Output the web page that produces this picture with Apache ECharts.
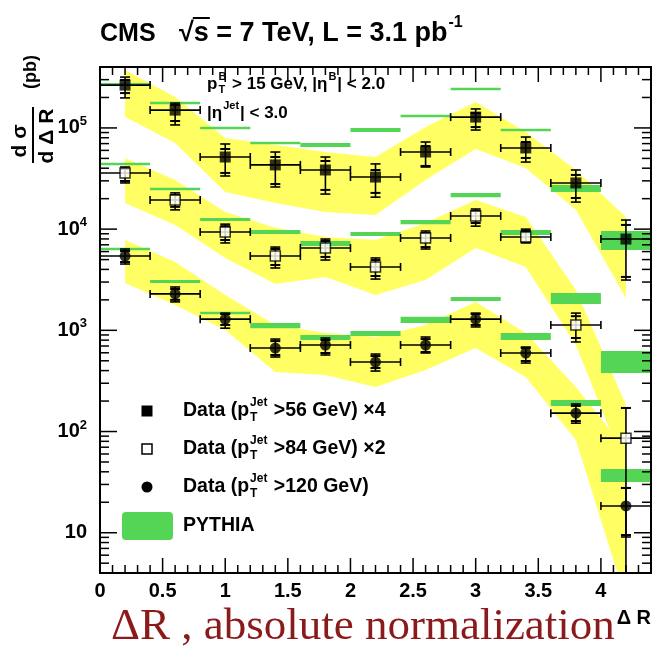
<!DOCTYPE html>
<html>
<head>
<meta charset="utf-8">
<title>CMS dsigma/dDeltaR</title>
<script src="https://cdn.jsdelivr.net/npm/echarts@6/dist/echarts.min.js"></script>
<style>
  html, body { margin: 0; padding: 0; background: #fff; }
  #main { width: 654px; height: 648px; }
</style>
</head>
<body>
<div id="main"></div>
<script>
// bins in Delta R
var binLo  = [0, 0.4, 0.8, 1.2, 1.6, 2.0, 2.4, 2.8, 3.2, 3.6, 4.0];
var binHi  = [0.4, 0.8, 1.2, 1.6, 2.0, 2.4, 2.8, 3.2, 3.6, 4.0, 4.4];
var binMid = [0.2, 0.6, 1.0, 1.4, 1.8, 2.2, 2.6, 3.0, 3.4, 3.8, 4.2];

// data pT(jet) > 56 GeV, x4
var valA    = [2.65e5, 1.50e5, 5.16e4, 4.31e4, 3.84e4, 3.27e4, 5.78e4, 1.28e5, 6.34e4, 2.86e4, 7.98e3];
var totLoA  = [1.98e5, 1.07e5, 3.35e4, 2.61e4, 2.22e4, 2.07e4, 4.11e4, 9.53e4, 4.60e4, 1.85e4, 3.14e3];
var totHiA  = [3.18e5, 1.76e5, 6.94e4, 5.78e4, 5.16e4, 4.41e4, 7.26e4, 1.54e5, 8.13e4, 3.84e4, 1.23e4];
var statLoA = [2.21e5, 1.17e5, 3.59e4, 2.79e4, 2.44e4, 2.28e4, 4.21e4, 1.02e5, 5.05e4, 2.03e4, 3.37e3];
var statHiA = [2.98e5, 1.69e5, 6.19e4, 5.16e4, 4.71e4, 3.84e4, 6.62e4, 1.40e5, 7.26e4, 3.43e4, 1.10e4];

// data pT(jet) > 84 GeV, x2
var valB    = [3.59e4, 1.94e4, 9.38e3, 5.42e3, 6.50e3, 4.23e3, 8.17e3, 1.35e4, 8.36e3, 1.13e3, 86];
var totLoB  = [2.86e4, 1.55e4, 7.30e3, 4.13e3, 4.95e3, 3.21e3, 6.36e3, 1.07e4, 7.30e3, 767, 1];
var totHiB  = [4.11e4, 2.28e4, 1.12e4, 6.65e3, 7.98e3, 5.19e3, 9.58e3, 1.58e4, 1.00e4, 1.48e3, 171];
var statLoB = [2.99e4, 1.66e4, 7.81e3, 4.42e3, 5.31e3, 3.44e3, 6.65e3, 1.15e4, 7.46e3, 840, 1];
var statHiB = [3.93e4, 2.17e4, 1.07e4, 6.36e3, 7.63e3, 4.95e3, 9.16e3, 1.51e4, 9.58e3, 1.38e3, 171];

// data pT(jet) > 120 GeV
var valC    = [5.42e3, 2.29e3, 1.29e3, 668, 716, 486, 716, 1.29e3, 597, 152, 18.4];
var totLoC  = [4.52e3, 1.91e3, 1.05e3, 545, 570, 396, 597, 1.08e3, 475, 121, 9.08];
var totHiC  = [6.36e3, 2.68e3, 1.48e3, 820, 840, 583, 859, 1.48e3, 684, 187, 27.7];
var statLoC = [4.73e3, 2.00e3, 1.13e3, 570, 597, 424, 611, 1.13e3, 498, 127, 9.5];
var statHiC = [6.08e3, 2.56e3, 1.45e3, 783, 802, 557, 820, 1.45e3, 668, 179, 27.7];

// systematic bands (yellow)
var bandLoA = [1.28e5, 7.10e4, 2.33e4, 1.81e4, 1.48e4, 1.38e4, 3.05e4, 6.19e4, 4.02e4, 1.55e4, 2.08e3];
var bandHiA = [3.73e5, 2.02e5, 7.94e4, 6.78e4, 5.78e4, 5.16e4, 1.02e5, 1.80e5, 9.12e4, 3.84e4, 1.32e4];
var bandLoB = [1.81e4, 1.10e4, 5.19e3, 2.87e3, 3.37e3, 2.23e3, 3.14e3, 6.50e3, 4.23e3, 716, 41.7];
var bandHiB = [5.05e4, 3.05e4, 1.48e4, 1.03e4, 8.36e3, 7.81e3, 1.15e4, 1.94e4, 1.32e4, 2.50e3, 183];
var bandLoC = [2.94e3, 1.78e3, 1.01e3, 387, 362, 275, 406, 668, 346, 82.4, 2.16];
var bandHiC = [7.81e3, 4.73e3, 2.23e3, 1.13e3, 942, 859, 1.13e3, 1.91e3, 942, 275, 65.6];

// PYTHIA (green)
var pyLoA = [2.60e5, 1.72e5, 9.75e4, 6.94e4, 6.47e4, 9.12e4, 1.28e5, 2.37e5, 9.33e4, 2.33e4, 6.22e3];
var pyHiA = [2.78e5, 1.80e5, 1.02e5, 7.26e4, 7.10e4, 9.98e4, 1.34e5, 2.48e5, 9.75e4, 2.73e4, 9.58e3];
var pyLoB = [4.31e4, 2.44e4, 1.20e4, 8.95e3, 6.81e3, 8.55e3, 1.12e4, 2.07e4, 8.75e3, 1.82e3, 378];
var pyHiB = [4.50e4, 2.55e4, 1.29e4, 9.79e3, 7.63e3, 9.38e3, 1.23e4, 2.28e4, 9.79e3, 2.34e3, 625];
var pyLoC = [6.22e3, 2.94e3, 1.45e3, 1.05e3, 802, 879, 1.18e3, 1.95e3, 802, 179, 31.7];
var pyHiC = [6.52e3, 3.14e3, 1.52e3, 1.18e3, 899, 984, 1.36e3, 2.13e3, 940, 205, 42.7];

// axes
var xTickLabels = ['0', '0.5', '1', '1.5', '2', '2.5', '3', '3.5', '4'];
var xMajorTicks = [0, 0.5, 1, 1.5, 2, 2.5, 3, 3.5, 4];
var xMinorTicks = [0.1, 0.2, 0.3, 0.4, 0.6, 0.7, 0.8, 0.9, 1.1, 1.2, 1.3, 1.4, 1.6, 1.7, 1.8, 1.9,
                   2.1, 2.2, 2.3, 2.4, 2.6, 2.7, 2.8, 2.9, 3.1, 3.2, 3.3, 3.4, 3.6, 3.7, 3.8, 3.9, 4.1, 4.2, 4.3];
var yMajorTicks = [10, 100, 1000, 1e4, 1e5];
var yMinorTicks = [5, 6, 7, 8, 9, 20, 30, 40, 50, 60, 70, 80, 90, 200, 300, 400, 500, 600, 700, 800, 900,
                   2000, 3000, 4000, 5000, 6000, 7000, 8000, 9000, 2e4, 3e4, 4e4, 5e4, 6e4, 7e4, 8e4, 9e4, 2e5, 3e5];
var XMIN = 0, XMAX = 4.4, YMIN = 4, YMAX = 4e5;

var YELLOW = '#ffff64', GREEN = '#55d555';
var SANS = '"Liberation Sans", Arial, Helvetica, sans-serif';

// text helpers
var mctx = document.createElement('canvas').getContext('2d');
function tw(str, size) {
    mctx.font = 'bold ' + size + 'px ' + SANS;
    return mctx.measureText(str).width;
}
function txt(x, y, str, size, extra) {
    var st = {
        text: str, font: 'bold ' + size + 'px ' + SANS, fill: '#000',
        align: 'left', verticalAlign: 'middle', textAlign: 'left', textVerticalAlign: 'middle'
    };
    if (extra) Object.assign(st, extra);
    return { type: 'text', x: x, y: y, silent: true, style: st };
}
// a line of text with stacked super/subscripts
function run(x, y, size, parts) {
    var els = [], cx = x, small = Math.round(size * 0.62);
    parts.forEach(function (p) {
        if (typeof p === 'string') {
            els.push(txt(cx, y, p, size));
            cx += tw(p, size);
        } else {
            var w = 0;
            if (p.sup) { els.push(txt(cx + 1, y - size * 0.42, p.sup, small)); w = Math.max(w, tw(p.sup, small)); }
            if (p.sub) { els.push(txt(cx + 1, y + size * 0.34, p.sub, small)); w = Math.max(w, tw(p.sub, small)); }
            cx += w + 2;
        }
    });
    return els;
}

function bandSeries(lo, hi) {
    return {
        type: 'custom', clip: true, silent: true, z: 1,
        data: [[binMid[0], lo[0]]],
        renderItem: function (params, api) {
            var pts = [];
            for (var i = 0; i < binMid.length; i++) pts.push(api.coord([binMid[i], hi[i]]));
            for (var j = binMid.length - 1; j >= 0; j--) pts.push(api.coord([binMid[j], lo[j]]));
            return { type: 'polygon', shape: { points: pts }, style: { fill: YELLOW } };
        }
    };
}

function pythiaSeries(lo, hi) {
    return {
        type: 'custom', clip: true, silent: true, z: 2,
        data: binMid.map(function (x, i) { return [x, lo[i], binLo[i], binHi[i], hi[i]]; }),
        renderItem: function (params, api) {
            var p0 = api.coord([api.value(2), api.value(4)]);
            var p1 = api.coord([api.value(3), api.value(1)]);
            var h = Math.max(p1[1] - p0[1], 2.5);
            return {
                type: 'rect',
                shape: { x: p0[0], y: (p0[1] + p1[1]) / 2 - h / 2, width: p1[0] - p0[0], height: h },
                style: { fill: GREEN }
            };
        }
    };
}

function errorSeries(val, tLo, tHi, sLo, sHi) {
    return {
        type: 'custom', clip: true, silent: true, z: 3,
        data: binMid.map(function (x, i) {
            return [x, val[i], tLo[i], tHi[i], sLo[i], sHi[i], binLo[i], binHi[i]];
        }),
        renderItem: function (params, api) {
            var c = api.coord([api.value(0), api.value(1)]);
            var xl = api.coord([api.value(6), api.value(1)])[0];
            var xr = api.coord([api.value(7), api.value(1)])[0];
            var yLo = api.coord([api.value(0), api.value(2)])[1];
            var yHi = api.coord([api.value(0), api.value(3)])[1];
            var ysLo = api.coord([api.value(0), api.value(4)])[1];
            var ysHi = api.coord([api.value(0), api.value(5)])[1];
            function seg(x1, y1, x2, y2, lw) {
                return { type: 'line', shape: { x1: x1, y1: y1, x2: x2, y2: y2 },
                         style: { stroke: '#000', lineWidth: lw || 1.6 } };
            }
            var cw = 5, ch = 4;
            return {
                type: 'group',
                children: [
                    seg(xl, c[1], xr, c[1]),
                    seg(xl, c[1] - ch, xl, c[1] + ch),
                    seg(xr, c[1] - ch, xr, c[1] + ch),
                    seg(c[0], yHi, c[0], yLo),
                    seg(c[0] - cw, yHi, c[0] + cw, yHi),
                    seg(c[0] - cw, yLo, c[0] + cw, yLo),
                    seg(c[0] - cw, ysHi, c[0] + cw, ysHi, 2),
                    seg(c[0] - cw, ysLo, c[0] + cw, ysLo, 2)
                ]
            };
        }
    };
}

function points(val) {
    return binMid.map(function (x, i) { return [x, val[i]]; });
}

// frame and ticks on all four sides
var tickData = [];
xMajorTicks.forEach(function (v) { tickData.push([v, YMIN, 0, 1]); });
xMinorTicks.forEach(function (v) { tickData.push([v, YMIN, 0, 0]); });
yMajorTicks.forEach(function (v) { tickData.push([XMIN, v, 1, 1]); });
yMinorTicks.forEach(function (v) { tickData.push([XMIN, v, 1, 0]); });

var frameSeries = {
    type: 'custom', clip: false, silent: true, z: 10,
    data: tickData,
    renderItem: function (params, api) {
        var kind = api.value(2), major = api.value(3);
        var kids = [];
        function seg(x1, y1, x2, y2) {
            return { type: 'line', shape: { x1: x1, y1: y1, x2: x2, y2: y2 },
                     style: { stroke: '#000', lineWidth: 1.5 } };
        }
        if (kind === 0) {
            var len = major ? 15 : 8;
            var b = api.coord([api.value(0), YMIN]), t = api.coord([api.value(0), YMAX]);
            kids.push(seg(b[0], b[1], b[0], b[1] - len), seg(t[0], t[1], t[0], t[1] + len));
        } else {
            var len2 = major ? 17 : 9;
            var l = api.coord([XMIN, api.value(1)]), r = api.coord([XMAX, api.value(1)]);
            kids.push(seg(l[0], l[1], l[0] + len2, l[1]), seg(r[0], r[1], r[0] - len2, r[1]));
        }
        if (params.dataIndex === 0) {
            var tl = api.coord([XMIN, YMAX]), br = api.coord([XMAX, YMIN]);
            kids.push({ type: 'rect', shape: { x: tl[0], y: tl[1], width: br[0] - tl[0], height: br[1] - tl[1] },
                        style: { fill: 'none', stroke: '#000', lineWidth: 2 } });
        }
        return { type: 'group', children: kids };
    }
};

// graphic texts
var graphics = [];
graphics = graphics.concat(run(100, 34, 25, ['CMS']));
var tx = 179, tSize = 27;
graphics.push(txt(tx, 34, '\u221As = 7 TeV, L = 3.1 pb', tSize));
var wRoot = tw('\u221A', tSize), wS = tw('s', tSize);
graphics.push({ type: 'line', silent: true,
    shape: { x1: tx + wRoot - 1, y1: 18, x2: tx + wRoot + wS + 1, y2: 18 },
    style: { stroke: '#000', lineWidth: 2 } });
graphics.push(txt(tx + tw('\u221As = 7 TeV, L = 3.1 pb', tSize) + 1, 23, '-1', 16));

graphics = graphics.concat(run(207, 84, 17, ['p', { sup: 'B', sub: 'T' }, ' > 15 GeV, |\u03B7', { sup: 'B' }, '| < 2.0']));
graphics = graphics.concat(run(207, 113, 17, ['|\u03B7', { sup: 'Jet' }, '| < 3.0']));

// legend
graphics.push({ type: 'rect', silent: true, shape: { x: 141.5, y: 405.5, width: 11, height: 11 }, style: { fill: '#000' } });
graphics.push({ type: 'rect', silent: true, shape: { x: 142, y: 444, width: 10, height: 10 }, style: { fill: '#fff', stroke: '#000', lineWidth: 1.5 } });
graphics.push({ type: 'circle', silent: true, shape: { cx: 147, cy: 487, r: 5.5 }, style: { fill: '#000' } });
graphics.push({ type: 'rect', silent: true, shape: { x: 122, y: 512, width: 51, height: 28, r: 4 }, style: { fill: GREEN } });
graphics = graphics.concat(run(183, 411, 19.5, ['Data (p', { sup: 'Jet', sub: 'T' }, ' >56 GeV) \u00D74']));
graphics = graphics.concat(run(183, 449, 19.5, ['Data (p', { sup: 'Jet', sub: 'T' }, ' >84 GeV) \u00D72']));
graphics = graphics.concat(run(183, 487, 19.5, ['Data (p', { sup: 'Jet', sub: 'T' }, ' >120 GeV)']));
graphics = graphics.concat(run(183, 526, 19.5, ['PYTHIA']));

// y axis title, rotated
graphics.push({
    type: 'group', x: 33, y: 135, rotation: Math.PI / 2, silent: true,
    children: [
        txt(-6, -13, 'd \u03C3', 21, { align: 'center', textAlign: 'center' }),
        { type: 'line', shape: { x1: -28, y1: 0, x2: 28, y2: 0 }, style: { stroke: '#000', lineWidth: 2 } },
        txt(-1, 14, 'd \u0394 R', 21, { align: 'center', textAlign: 'center' }),
        txt(63, -2, '(pb)', 18, { align: 'center', textAlign: 'center' })
    ]
});

// x axis titles
graphics.push(txt(111, 627, '\u0394R , absolute normalization', 45,
    { font: '45px "Liberation Serif", "Times New Roman", serif', fill: '#8b1a1a' }));
graphics.push(txt(651, 618, '\u0394 R', 20, { align: 'right', textAlign: 'right' }));

var chart = echarts.init(document.getElementById('main'));
chart.setOption({
    animation: false,
    backgroundColor: '#fff',
    grid: { left: 100, right: 2, top: 67, bottom: 75, show: false },
    xAxis: {
        type: 'value', min: XMIN, max: XMAX, interval: 0.5,
        axisLine: { show: false }, axisTick: { show: false }, splitLine: { show: false },
        axisLabel: {
            margin: 8, color: '#000', fontWeight: 'bold', fontSize: 20, fontFamily: SANS,
            formatter: function (v) {
                var k = Math.round(v / 0.5);
                if (Math.abs(v - k * 0.5) > 1e-6 || k >= xTickLabels.length) return '';
                return xTickLabels[k];
            }
        }
    },
    yAxis: {
        type: 'log', logBase: 10, min: YMIN, max: YMAX,
        axisLine: { show: false }, axisTick: { show: false }, splitLine: { show: false },
        axisLabel: {
            margin: 13, color: '#000',
            formatter: function (v) {
                var lg = Math.log10(v), e = Math.round(lg);
                if (Math.abs(lg - e) > 1e-6 || yMajorTicks.indexOf(Math.pow(10, e)) < 0) return '';
                return e === 1 ? '{b|10}' : '{b|10}{s|' + e + '}';
            },
            rich: {
                b: { fontSize: 20, fontWeight: 'bold', fontFamily: SANS, color: '#000', lineHeight: 26 },
                s: { fontSize: 13, fontWeight: 'bold', fontFamily: SANS, color: '#000', lineHeight: 14, verticalAlign: 'top' }
            }
        }
    },
    graphic: graphics,
    series: [
        bandSeries(bandLoA, bandHiA),
        bandSeries(bandLoB, bandHiB),
        bandSeries(bandLoC, bandHiC),
        pythiaSeries(pyLoA, pyHiA),
        pythiaSeries(pyLoB, pyHiB),
        pythiaSeries(pyLoC, pyHiC),
        errorSeries(valA, totLoA, totHiA, statLoA, statHiA),
        errorSeries(valB, totLoB, totHiB, statLoB, statHiB),
        errorSeries(valC, totLoC, totHiC, statLoC, statHiC),
        { type: 'scatter', name: 'Data (pT Jet >56 GeV) x4', z: 5, silent: true, symbol: 'rect', symbolSize: 11,
          itemStyle: { color: '#000' }, data: points(valA) },
        { type: 'scatter', name: 'Data (pT Jet >84 GeV) x2', z: 5, silent: true, symbol: 'rect', symbolSize: 10,
          itemStyle: { color: '#fff', borderColor: '#000', borderWidth: 1.5 }, data: points(valB) },
        { type: 'scatter', name: 'Data (pT Jet >120 GeV)', z: 5, silent: true, symbol: 'circle', symbolSize: 11,
          itemStyle: { color: '#000' }, data: points(valC) },
        frameSeries
    ]
});
</script>
</body>
</html>
